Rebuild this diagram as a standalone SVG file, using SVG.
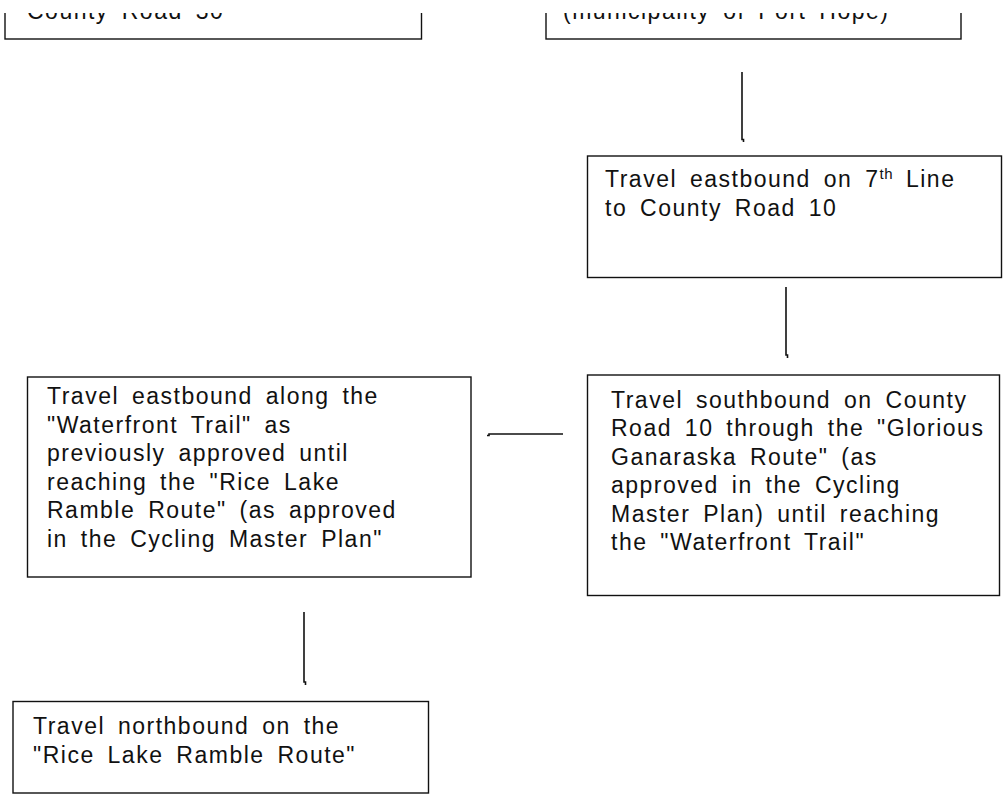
<svg xmlns="http://www.w3.org/2000/svg" width="1005" height="798" viewBox="0 0 1005 798">
<style>
  .box { fill: #ffffff; stroke: #111111; stroke-width: 1.4; }
  .lbl { font-family: "Liberation Sans", Arial, sans-serif; font-size: 23px; letter-spacing: 1.5px; word-spacing: 5px; fill: #111111; }
  .sup { font-size: 15px; letter-spacing: 0.5px; }
  .con { fill: none; stroke: #111111; stroke-width: 1.6; }
</style>
<defs>
  <clipPath id="topclip"><rect x="0" y="13" width="1005" height="785"/></clipPath>
</defs>
<rect x="0" y="0" width="1005" height="798" fill="#ffffff"/>

<g id="node-county-road" clip-path="url(#topclip)">
  <rect class="box" x="5" y="-30" width="416.5" height="69"/>
  <text class="lbl" x="27" y="18.5">County Road 30</text>
</g>

<g id="node-port-hope" clip-path="url(#topclip)">
  <rect class="box" x="546" y="-30" width="415" height="69"/>
  <text class="lbl" x="563" y="18.5">(municipality of Port Hope)</text>
</g>

<g id="node-7th-line">
  <rect class="box" x="587.5" y="156" width="414" height="121.5"/>
  <text class="lbl" x="605" y="187">Travel eastbound on 7<tspan class="sup" dy="-8">th</tspan><tspan dy="8"> Line</tspan></text>
  <text class="lbl" x="605" y="215.5">to County Road 10</text>
</g>

<g id="node-southbound">
  <rect class="box" x="587.5" y="375" width="412" height="220.5"/>
  <text class="lbl" x="611" y="407.5">Travel southbound on County</text>
  <text class="lbl" x="611" y="436">Road 10 through the "Glorious</text>
  <text class="lbl" x="611" y="464.5">Ganaraska Route" (as</text>
  <text class="lbl" x="611" y="493">approved in the Cycling</text>
  <text class="lbl" x="611" y="521.5">Master Plan) until reaching</text>
  <text class="lbl" x="611" y="550">the "Waterfront Trail"</text>
</g>

<g id="node-waterfront">
  <rect class="box" x="27.5" y="377" width="443.5" height="200"/>
  <text class="lbl" x="47" y="404">Travel eastbound along the</text>
  <text class="lbl" x="47" y="432.5">"Waterfront Trail" as</text>
  <text class="lbl" x="47" y="461">previously approved until</text>
  <text class="lbl" x="47" y="489.5">reaching the "Rice Lake</text>
  <text class="lbl" x="47" y="518">Ramble Route" (as approved</text>
  <text class="lbl" x="47" y="546.5">in the Cycling Master Plan"</text>
</g>

<g id="node-northbound">
  <rect class="box" x="13" y="701.5" width="415.5" height="91.5"/>
  <text class="lbl" x="33" y="734">Travel northbound on the</text>
  <text class="lbl" x="33" y="762.5">"Rice Lake Ramble Route"</text>
</g>

<g id="connectors">
  <polyline class="con" points="742,72 742,139.5 743.5,139.5 743.5,142"/>
  <polyline class="con" points="786,287 786,355 787.5,355 787.5,358"/>
  <polyline class="con" points="487,435.5 489,435.5 489,434 563,434"/>
  <polyline class="con" points="304,612 304,682 305.5,682 305.5,685"/>
</g>
</svg>
